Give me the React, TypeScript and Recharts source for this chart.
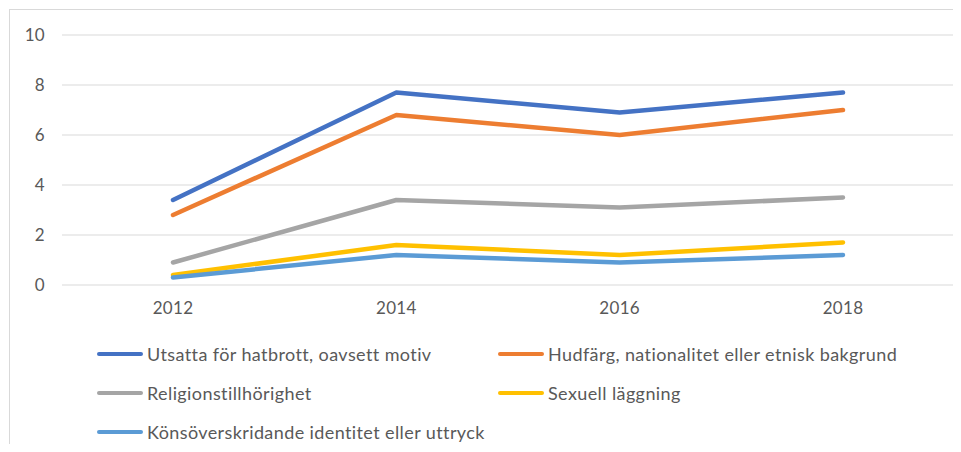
import React from 'react';
import { LineChart, Line, XAxis, YAxis, CartesianGrid } from 'recharts';

const years = ['2012', '2014', '2016', '2018'];
const utsatta = [3.4, 7.7, 6.9, 7.7];
const hudfarg = [2.8, 6.8, 6.0, 7.0];
const religion = [0.9, 3.4, 3.1, 3.5];
const sexuell = [0.4, 1.6, 1.2, 1.7];
const kons = [0.3, 1.2, 0.9, 1.2];
const yTicks = [0, 2, 4, 6, 8, 10];

const seriesNames = [
  'Utsatta för hatbrott, oavsett motiv',
  'Hudfärg, nationalitet eller etnisk bakgrund',
  'Religionstillhörighet',
  'Sexuell läggning',
  'Könsöverskridande identitet eller uttryck',
];
const seriesValues = [utsatta, hudfarg, religion, sexuell, kons];
const seriesColors = ['#4472C4', '#ED7D31', '#A5A5A5', '#FFC000', '#5B9BD5'];

const data = years.map((y, i) => {
  const row: Record<string, string | number> = { year: y };
  seriesNames.forEach((n, k) => {
    row[n] = seriesValues[k][i];
  });
  return row;
});

const FONT = 'Lato, "Open Sans", sans-serif';
const TEXT = '#595959';

// legend layout (positions only)
const legendCols = [97, 498];
const legendRows = [354, 393, 432];

export default function App() {
  return (
    <div
      style={{
        position: 'relative',
        margin: -8,
        width: 961,
        height: 452,
        overflow: 'hidden',
        background: '#fff',
        fontFamily: FONT,
      }}
    >
      <div
        style={{
          position: 'absolute',
          left: 9,
          top: 9,
          width: 1100,
          height: 1100,
          border: '1px solid #D9D9D9',
          boxSizing: 'border-box',
        }}
      />
      <div style={{ position: 'absolute', left: 0, top: 0 }}>
        <LineChart
          width={961}
          height={452}
          data={data}
          margin={{ top: 35, right: 7, left: 0, bottom: 127 }}
        >
          <CartesianGrid vertical={false} stroke="#D9D9D9" strokeWidth={1} />
          <XAxis
            dataKey="year"
            axisLine={false}
            tickLine={false}
            height={40}
            tickMargin={11}
            padding={{ left: 111, right: 111 }}
            tick={{ fill: TEXT, fontSize: 17, fontFamily: FONT, letterSpacing: 0.3 }}
          />
          <YAxis
            domain={[0, 10]}
            ticks={yTicks}
            width={62}
            axisLine={false}
            tickLine={false}
            tickMargin={11}
            tick={{ fill: TEXT, fontSize: 17, fontFamily: FONT, letterSpacing: 0.3 }}
          />
          {seriesNames.map((n, k) => (
            <Line
              key={n}
              type="linear"
              dataKey={n}
              stroke={seriesColors[k]}
              strokeWidth={4.5}
              strokeLinecap="round"
              strokeLinejoin="round"
              dot={false}
              activeDot={false}
              isAnimationActive={false}
            />
          ))}
        </LineChart>
      </div>
      {seriesNames.map((n, k) => {
        const col = k % 2;
        const row = Math.floor(k / 2);
        return (
          <div
            key={n}
            style={{
              position: 'absolute',
              left: legendCols[col],
              top: legendRows[row] - 12,
              height: 24,
              display: 'flex',
              alignItems: 'center',
              whiteSpace: 'nowrap',
            }}
          >
            <div
              style={{
                width: 46,
                height: 4.5,
                borderRadius: 3,
                background: seriesColors[k],
                marginRight: 4,
              }}
            />
            <span style={{ color: TEXT, fontSize: 18, letterSpacing: 0.4, fontFamily: FONT }}>{n}</span>
          </div>
        );
      })}
    </div>
  );
}
